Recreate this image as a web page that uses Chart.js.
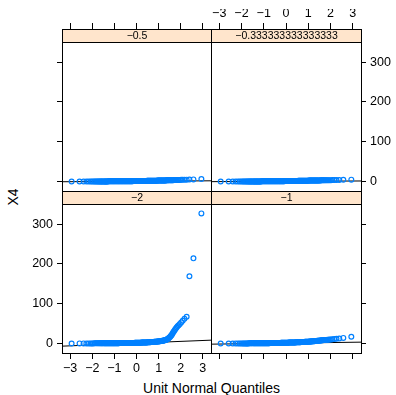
<!DOCTYPE html>
<html>
<head>
<meta charset="utf-8">
<script src="https://cdn.jsdelivr.net/npm/chart.js@4/dist/chart.umd.min.js"></script>
<style>
  html, body { margin: 0; padding: 0; background: #fff; }
  #wrap { position: relative; width: 396px; height: 395px; overflow: hidden;
          font-family: "Liberation Sans", Arial, Helvetica, sans-serif; }
  #wrap canvas { position: absolute; left: 0; top: 0; }
  .axtitle { position: absolute; font-size: 14px; color: #000; white-space: nowrap;
             transform: translate(-50%, -50%); line-height: 1; }
  #ytitle { transform: translate(-50%, -50%) rotate(-90deg); }
</style>
</head>
<body>
<div id="wrap">
  <div class="axtitle" id="xtitle" style="left:211.5px; top:388px;">Unit Normal Quantiles</div>
  <div class="axtitle" id="ytitle" style="left:13px; top:197px;">X4</div>
</div>
<script>
// Theoretical standard-normal quantiles (shared by every panel)
const normalQuantiles = [
  -2.935, -2.576, -2.394, -2.268, -2.170, -2.089, -2.020, -1.960, -1.906, -1.857,
  -1.812, -1.770, -1.732, -1.695, -1.661, -1.629, -1.598, -1.569, -1.541, -1.514,
  -1.475, -1.450, -1.425, -1.400, -1.375, -1.350, -1.325, -1.300, -1.275, -1.250,
  -1.225, -1.200, -1.175, -1.150, -1.125, -1.100, -1.075, -1.050, -1.025, -1.000,
  -0.975, -0.950, -0.925, -0.900, -0.875, -0.850, -0.825, -0.800, -0.775, -0.750,
  -0.725, -0.700, -0.675, -0.650, -0.625, -0.600, -0.575, -0.550, -0.525, -0.500,
  -0.475, -0.450, -0.425, -0.400, -0.375, -0.350, -0.325, -0.300, -0.275, -0.250,
  -0.225, -0.200, -0.175, -0.150, -0.125, -0.100, -0.075, -0.050, -0.025, 0.000,
  0.025, 0.050, 0.075, 0.100, 0.125, 0.150, 0.175, 0.200, 0.225, 0.250,
  0.275, 0.300, 0.325, 0.350, 0.375, 0.400, 0.425, 0.450, 0.475, 0.500,
  0.525, 0.550, 0.575, 0.600, 0.625, 0.650, 0.675, 0.700, 0.725, 0.750,
  0.775, 0.800, 0.825, 0.850, 0.875, 0.900, 0.925, 0.950, 0.975, 1.000,
  1.025, 1.050, 1.075, 1.100, 1.125, 1.150, 1.175, 1.200, 1.225, 1.250,
  1.275, 1.300, 1.325, 1.350, 1.375, 1.400, 1.425, 1.450, 1.475,
  1.514, 1.541, 1.569, 1.598, 1.629, 1.661, 1.695, 1.732, 1.770, 1.812,
  1.857, 1.906, 1.960, 2.020, 2.089, 2.170, 2.268, 2.394, 2.576, 2.935
];

// Sorted X4 values for each conditioning level
const x4LevelMinus2 = [
  0.0, 0.1, 0.1, 0.1, 0.2, 0.2, 0.2, 0.2, 0.3, 0.3,
  0.3, 0.3, 0.3, 0.4, 0.4, 0.4, 0.4, 0.4, 0.5, 0.5,
  0.5, 0.5, 0.5, 0.5, 0.5, 0.5, 0.6, 0.6, 0.6, 0.6,
  0.6, 0.6, 0.6, 0.6, 0.7, 0.7, 0.7, 0.7, 0.7, 0.7,
  0.7, 0.7, 0.8, 0.8, 0.8, 0.8, 0.8, 0.8, 0.9, 0.9,
  0.9, 0.9, 0.9, 0.9, 1.0, 1.0, 1.0, 1.0, 1.0, 1.0,
  1.1, 1.1, 1.1, 1.1, 1.2, 1.2, 1.2, 1.2, 1.3, 1.3,
  1.3, 1.3, 1.4, 1.4, 1.4, 1.4, 1.5, 1.5, 1.6, 1.6,
  1.7, 1.7, 1.8, 1.8, 1.9, 1.9, 2.0, 2.0, 2.1, 2.1,
  2.2, 2.2, 2.3, 2.4, 2.4, 2.5, 2.6, 2.6, 2.7, 2.8,
  2.9, 3.0, 3.1, 3.2, 3.3, 3.4, 3.5, 3.6, 3.7, 3.8,
  3.9, 4.0, 4.2, 4.3, 4.5, 4.6, 4.8, 4.9, 5.1, 5.2,
  5.4, 5.6, 5.8, 6.0, 6.2, 6.5, 6.7, 7.0, 7.3, 7.6,
  8.0, 8.4, 8.9, 9.5, 10.2, 11.0, 12.0, 13.0, 14.2,
  16, 18, 20, 22, 25, 28, 31, 34, 37, 40,
  43, 46, 49, 53, 57, 62, 67, 169, 214, 327
];
const x4LevelMinus1 = [
  0.0, 0.0, 0.0, 0.1, 0.1, 0.1, 0.1, 0.1, 0.2, 0.2,
  0.2, 0.2, 0.2, 0.2, 0.3, 0.3, 0.3, 0.3, 0.3, 0.3,
  0.3, 0.3, 0.4, 0.4, 0.4, 0.4, 0.4, 0.4, 0.4, 0.5,
  0.5, 0.5, 0.5, 0.5, 0.5, 0.5, 0.6, 0.6, 0.6, 0.6,
  0.6, 0.7, 0.7, 0.7, 0.7, 0.7, 0.8, 0.8, 0.8, 0.8,
  0.9, 0.9, 0.9, 0.9, 1.0, 1.0, 1.0, 1.0, 1.1, 1.1,
  1.1, 1.2, 1.2, 1.2, 1.3, 1.3, 1.3, 1.4, 1.4, 1.4,
  1.5, 1.5, 1.5, 1.6, 1.6, 1.7, 1.7, 1.7, 1.8, 1.8,
  1.9, 1.9, 2.0, 2.0, 2.1, 2.1, 2.2, 2.2, 2.3, 2.3,
  2.4, 2.4, 2.5, 2.5, 2.6, 2.7, 2.7, 2.8, 2.8, 2.9,
  3.0, 3.0, 3.1, 3.2, 3.2, 3.3, 3.4, 3.5, 3.5, 3.6,
  3.7, 3.8, 3.9, 4.0, 4.0, 4.1, 4.2, 4.3, 4.4, 4.5,
  4.6, 4.7, 4.8, 4.9, 5.0, 5.2, 5.3, 5.4, 5.5, 5.7,
  5.8, 5.9, 6.1, 6.2, 6.4, 6.5, 6.7, 6.8, 7.0,
  7.2, 7.4, 7.6, 7.8, 8.0, 8.2, 8.4, 8.6, 8.8, 9.0,
  9.3, 9.6, 9.9, 10.2, 10.6, 11.0, 11.6, 12.4, 14.0, 17.0
];
const x4LevelMinusHalf = [
  0.0, 0.0, 0.0, 0.0, 0.0, 0.0, 0.1, 0.1, 0.1, 0.1,
  0.1, 0.1, 0.1, 0.1, 0.1, 0.1, 0.2, 0.2, 0.2, 0.2,
  0.2, 0.2, 0.2, 0.2, 0.2, 0.2, 0.2, 0.2, 0.3, 0.3,
  0.3, 0.3, 0.3, 0.3, 0.3, 0.3, 0.3, 0.3, 0.4, 0.4,
  0.4, 0.4, 0.4, 0.4, 0.4, 0.4, 0.5, 0.5, 0.5, 0.5,
  0.5, 0.5, 0.5, 0.5, 0.6, 0.6, 0.6, 0.6, 0.6, 0.6,
  0.6, 0.7, 0.7, 0.7, 0.7, 0.7, 0.7, 0.8, 0.8, 0.8,
  0.8, 0.8, 0.8, 0.9, 0.9, 0.9, 0.9, 0.9, 1.0, 1.0,
  1.0, 1.0, 1.0, 1.1, 1.1, 1.1, 1.1, 1.2, 1.2, 1.2,
  1.2, 1.3, 1.3, 1.3, 1.3, 1.4, 1.4, 1.4, 1.5, 1.5,
  1.5, 1.5, 1.6, 1.6, 1.6, 1.7, 1.7, 1.7, 1.8, 1.8,
  1.8, 1.9, 1.9, 1.9, 2.0, 2.0, 2.0, 2.1, 2.1, 2.2,
  2.2, 2.2, 2.3, 2.3, 2.4, 2.4, 2.4, 2.5, 2.5, 2.6,
  2.6, 2.7, 2.7, 2.8, 2.8, 2.9, 2.9, 3.0, 3.0,
  3.1, 3.1, 3.2, 3.2, 3.3, 3.3, 3.4, 3.5, 3.5, 3.6,
  3.7, 3.8, 3.9, 4.0, 4.1, 4.3, 4.5, 4.8, 5.2, 6.0
];
const x4LevelMinusThird = [
  0.0, 0.0, 0.0, 0.0, 0.0, 0.0, 0.0, 0.0, 0.1, 0.1,
  0.1, 0.1, 0.1, 0.1, 0.1, 0.1, 0.1, 0.1, 0.1, 0.1,
  0.1, 0.1, 0.1, 0.1, 0.2, 0.2, 0.2, 0.2, 0.2, 0.2,
  0.2, 0.2, 0.2, 0.2, 0.2, 0.3, 0.3, 0.3, 0.3, 0.3,
  0.3, 0.3, 0.3, 0.3, 0.3, 0.4, 0.4, 0.4, 0.4, 0.4,
  0.4, 0.4, 0.4, 0.5, 0.5, 0.5, 0.5, 0.5, 0.5, 0.5,
  0.6, 0.6, 0.6, 0.6, 0.6, 0.6, 0.7, 0.7, 0.7, 0.7,
  0.7, 0.7, 0.8, 0.8, 0.8, 0.8, 0.8, 0.9, 0.9, 0.9,
  0.9, 0.9, 1.0, 1.0, 1.0, 1.0, 1.1, 1.1, 1.1, 1.1,
  1.2, 1.2, 1.2, 1.2, 1.3, 1.3, 1.3, 1.3, 1.4, 1.4,
  1.4, 1.5, 1.5, 1.5, 1.5, 1.6, 1.6, 1.6, 1.7, 1.7,
  1.7, 1.8, 1.8, 1.8, 1.9, 1.9, 1.9, 2.0, 2.0, 2.0,
  2.1, 2.1, 2.1, 2.2, 2.2, 2.2, 2.3, 2.3, 2.3, 2.4,
  2.4, 2.4, 2.5, 2.5, 2.5, 2.6, 2.6, 2.6, 2.7,
  2.7, 2.7, 2.8, 2.8, 2.8, 2.9, 2.9, 3.0, 3.0, 3.1,
  3.1, 3.2, 3.2, 3.3, 3.4, 3.5, 3.6, 3.8, 4.1, 4.6
];

// Strip labels (conditioning levels)
const levelLabels = ["\u22122", "\u22121", "\u22120.5", "\u22120.333333333333333"];

// Reference line through the quartiles of each panel: intercept and slope
const qqIntercepts = [0.75, 0.75, 0.45, 0.35];
const qqSlopes     = [2.24, 0.75, 0.35, 0.25];

// Axis ticks and limits
const xTicks = [-3, -2, -1, 0, 1, 2, 3];
const yTicks = [0, 100, 200, 300];
const xLimits = [-3.37, 3.37];
const yLimits = [-24, 350.7];

// ---- layout (pixels) ----
const FONT = '"Liberation Sans", Arial, Helvetica, sans-serif';
const COLS = [[62, 211], [211, 361]];
const ROWS = [[42, 191], [204, 353]];   // [plotTop, plotBottom] for top and bottom rows
const STRIP_H = 13;
const AX_H = 20, AX_W = 32;
const W = 396, H = 395;

const fmtTick = v => (v < 0 ? "\u2212" + Math.abs(v) : String(v));

const panelFrame = {
  id: 'panelFrame',
  afterDraw(chart, args, opts) {
    const g = opts.geom;
    const ctx = chart.ctx;
    ctx.save();
    ctx.lineWidth = 1;
    ctx.strokeStyle = '#000';
    const stripTop = g.plotTop - STRIP_H;
    ctx.fillStyle = '#ffe5cc';
    ctx.fillRect(g.x0, stripTop, g.x1 - g.x0, STRIP_H);
    ctx.strokeRect(g.x0 + 0.5, stripTop + 0.5, g.x1 - g.x0, STRIP_H);
    ctx.fillStyle = '#000';
    ctx.font = '10.5px ' + FONT;
    ctx.textAlign = 'center';
    ctx.textBaseline = 'middle';
    ctx.fillText(opts.label, (g.x0 + g.x1) / 2 + 0.5, stripTop + STRIP_H / 2 + 1);
    ctx.strokeRect(g.x0 + 0.5, g.plotTop + 0.5, g.x1 - g.x0, g.y1 - g.plotTop);
    ctx.restore();
  }
};

// panels in lattice order: bottom-left, bottom-right, top-left, top-right
const panels = [
  { values: x4LevelMinus2,     col: 0, row: 1, xPos: 'bottom', yPos: 'left',  xLab: true,  yLab: true  },
  { values: x4LevelMinus1,     col: 1, row: 1, xPos: 'bottom', yPos: 'right', xLab: false, yLab: false },
  { values: x4LevelMinusHalf,  col: 0, row: 0, xPos: 'top',    yPos: 'left',  xLab: false, yLab: false },
  { values: x4LevelMinusThird, col: 1, row: 0, xPos: 'top',    yPos: 'right', xLab: true,  yLab: true  }
];

const wrap = document.getElementById('wrap');

panels.forEach((p, i) => {
  const [x0, x1] = COLS[p.col];
  const [plotTop, y1] = ROWS[p.row];
  // top row: the chart area also spans the strip so the top axis sits above it
  const areaTop = p.row === 0 ? plotTop - STRIP_H : plotTop;
  const plotH = y1 - plotTop;
  const yMax = yLimits[0] + (yLimits[1] - yLimits[0]) * (y1 - areaTop) / plotH;

  const canvas = document.createElement('canvas');
  canvas.width = W; canvas.height = H;
  canvas.style.width = W + 'px'; canvas.style.height = H + 'px';
  wrap.appendChild(canvas);

  const pts = normalQuantiles.map((q, k) => ({ x: q, y: p.values[k] }));
  const a = qqIntercepts[i], b = qqSlopes[i];
  const linePts = xLimits.map(x => ({ x: x, y: a + b * x }));

  new Chart(canvas, {
    type: 'scatter',
    data: {
      datasets: [
        {
          data: pts,
          showLine: false,
          pointStyle: 'circle',
          pointRadius: 2.4,
          pointBorderWidth: 1.2,
          borderColor: '#0080ff',
          backgroundColor: 'rgba(0,0,0,0)',
          pointBackgroundColor: 'rgba(0,0,0,0)'
        },
        {
          type: 'line',
          data: linePts,
          borderColor: '#000',
          borderWidth: 1,
          pointRadius: 0,
          fill: false
        }
      ]
    },
    options: {
      animation: false,
      responsive: false,
      devicePixelRatio: 1,
      events: [],
      layout: {
        padding: {
          left: x0 - (p.yPos === 'left' ? AX_W : 0),
          right: W - x1 - (p.yPos === 'right' ? AX_W : 0),
          top: areaTop - (p.xPos === 'top' ? AX_H : 0),
          bottom: H - y1 - (p.xPos === 'bottom' ? AX_H : 0)
        }
      },
      plugins: {
        legend: { display: false },
        tooltip: { enabled: false },
        panelFrame: { geom: { x0, x1, plotTop, y1 }, label: levelLabels[i] }
      },
      scales: {
        x: {
          type: 'linear',
          position: p.xPos,
          min: xLimits[0], max: xLimits[1],
          afterBuildTicks: s => { s.ticks = xTicks.map(v => ({ value: v })); },
          afterFit: s => { s.height = AX_H; },
          ticks: { display: p.xLab, color: '#000', font: { family: FONT, size: 12.5 },
                   padding: 2, maxRotation: 0, autoSkip: false, callback: fmtTick },
          grid: { drawOnChartArea: false, drawTicks: true, tickLength: 6, color: '#000', lineWidth: 1 },
          border: { display: false }
        },
        y: {
          type: 'linear',
          position: p.yPos,
          min: yLimits[0], max: yMax,
          afterBuildTicks: s => { s.ticks = yTicks.map(v => ({ value: v })); },
          afterFit: s => { s.width = AX_W; },
          ticks: { display: p.yLab, color: '#000', font: { family: FONT, size: 12.5 },
                   padding: 4, autoSkip: false, callback: fmtTick },
          grid: { drawOnChartArea: false, drawTicks: true, tickLength: 5, color: '#000', lineWidth: 1 },
          border: { display: false }
        }
      }
    },
    plugins: [panelFrame]
  });
});
</script>
</body>
</html>
